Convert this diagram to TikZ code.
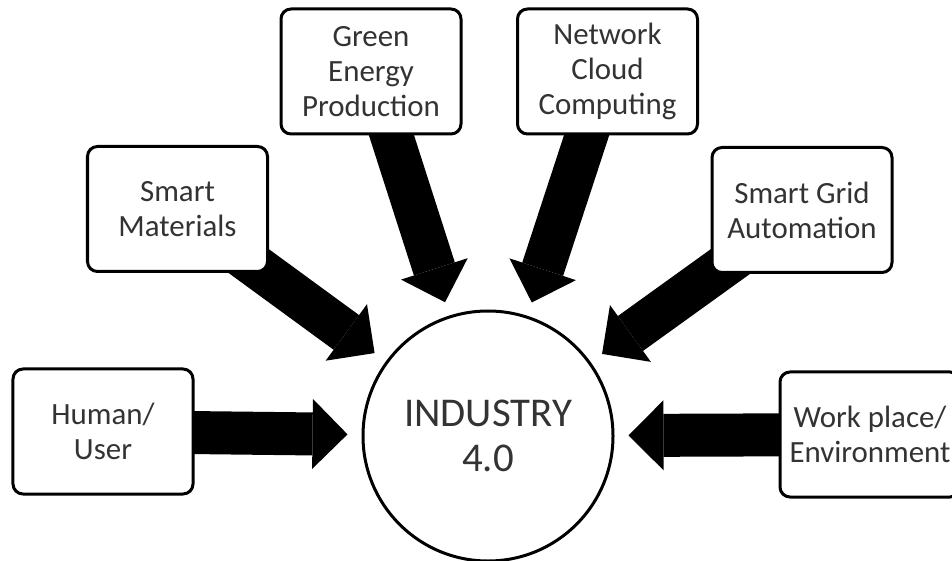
\documentclass[tikz,border=0pt]{standalone}
\usepackage{fontspec}
\setmainfont{Carlito}
\usetikzlibrary{arrows.meta,backgrounds}

\begin{document}
\begin{tikzpicture}
    [
        x=1bp, y=-1bp,
        topicbox/.style={rectangle, rounded corners=10bp, draw=black, line width=3bp, fill=white, minimum width=180bp, minimum height=125bp, align=center, text=black!80, font=\fontsize{31}{35}\selectfont},
        hubnode/.style={circle, draw=black, line width=3bp, fill=white, minimum size=250bp, inner sep=0pt, align=center, text=black!80, font=\fontsize{41}{45}\selectfont},
        bigarrow/.style={draw=black, line width=43bp, -{Triangle[length=35bp, width=70bp, line width=0bp]}, shorten >=14bp},
    ]
    \useasboundingbox (0,0) rectangle (952,561);

    \node[hubnode] (industry) at (488,436) {INDUSTRY\\4.0};

    \node[topicbox] (human) at (103,431.5) {Human/\\User};
    \node[topicbox] (materials) at (177.5,209) {Smart\\Materials};
    \node[topicbox] (green) at (371,71.5) {Green\\Energy\\Production};
    \node[topicbox] (network) at (607.5,71.5) {Network\\Cloud\\Computing};
    \node[topicbox] (grid) at (802,210) {Smart Grid\\Automation};
    \node[topicbox] (workplace) at (870,434.5) {Work place/\\Environment};

    % block arrows sit behind the boxes
    \begin{pgfonlayer}{background}
        \foreach \src in {human, materials, green, network, grid, workplace}
            \draw[bigarrow] (\src.center) -- (industry);
    \end{pgfonlayer}

\end{tikzpicture}
\end{document}
